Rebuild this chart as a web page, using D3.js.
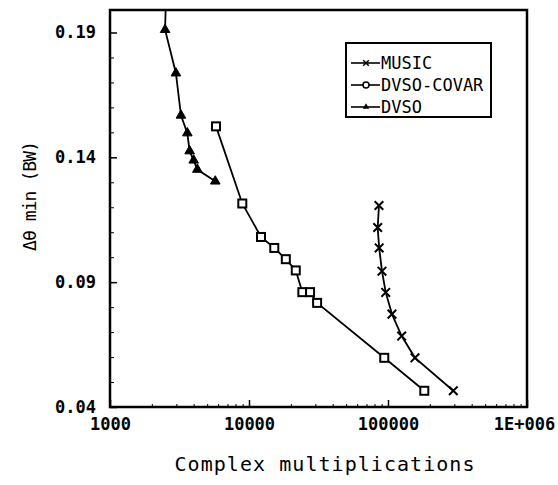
<!DOCTYPE html>
<html>
<head>
<meta charset="utf-8">
<script src="https://cdn.jsdelivr.net/npm/d3@7"></script>
<style>
  body { margin: 0; background: #fff; }
  text { font-family: "DejaVu Sans Mono", monospace; fill: #000; }
</style>
</head>
<body>
<div id="chart"></div>
<script>
// values
const musicX = [86100, 84300, 86400, 90500, 96300, 106800, 125400, 156400, 295000];
const musicY = [0.1207, 0.1119, 0.1037, 0.0944, 0.0859, 0.0772, 0.0684, 0.0597, 0.0465];

const covarX = [5790, 8950, 12200, 15200, 18400, 21700, 24200, 27500, 30900, 94000, 182500];
const covarY = [0.1524, 0.1215, 0.1081, 0.1037, 0.0992, 0.0947, 0.0860, 0.0860, 0.0817, 0.0597, 0.0465];

// first value lies above the plotted range (line runs off the top)
const dvsoX = [2560, 2490, 2980, 3240, 3600, 3740, 4000, 4250, 5720];
const dvsoY = [0.215, 0.1911, 0.1737, 0.1568, 0.1497, 0.1425, 0.1388, 0.1351, 0.1304];

const xTicks = [1000, 10000, 100000, 1000000];
const xTickLabels = ["1000", "10000", "100000", "1E+006"];
const yTicks = [0.04, 0.09, 0.14, 0.19];
const yTickLabels = ["0.04", "0.09", "0.14", "0.19"];

const legendNames = ["MUSIC", "DVSO-COVAR", "DVSO"];

const width = 558, height = 485;
const margin = {top: 10, right: 31, bottom: 78, left: 110};

const svg = d3.select("#chart").append("svg")
    .attr("width", width)
    .attr("height", height);

const x = d3.scaleLog()
    .domain([1000, 1000000])
    .range([margin.left, width - margin.right]);

const y = d3.scaleLinear()
    .domain([0.04, 0.199])
    .range([height - margin.bottom, margin.top]);

// minor ticks
const xMinor = [];
[1000, 10000, 100000].forEach(d => { for (let k = 2; k < 10; k++) xMinor.push(d * k); });
const yMinor = d3.range(5, 20).map(i => i / 100).filter(v => !yTicks.some(t => Math.abs(t - v) < 1e-9));

svg.append("g")
    .attr("transform", `translate(0,${y.range()[0]})`)
    .call(d3.axisBottom(x).tickValues(xMinor).tickSizeInner(-3).tickSizeOuter(0).tickFormat(""))
    .call(g => g.select(".domain").remove());

svg.append("g")
    .attr("transform", `translate(${margin.left},0)`)
    .call(d3.axisLeft(y).tickValues(yMinor).tickSizeInner(-4).tickSizeOuter(0).tickFormat(""))
    .call(g => g.select(".domain").remove());

// major ticks
svg.append("g")
    .attr("transform", `translate(0,${y.range()[0]})`)
    .call(d3.axisBottom(x).tickValues(xTicks).tickSizeInner(-7).tickSizeOuter(0).tickPadding(11)
        .tickFormat((d, i) => xTickLabels[i]))
    .call(g => g.select(".domain").remove())
    .call(g => g.selectAll("text").style("font-size", "17px").style("font-weight", "bold").attr("font-family", null))
    .call(g => g.selectAll("text").filter(d => d === 1000000).attr("dx", -3))
    .call(g => g.selectAll("line").attr("stroke-width", 1.5));

svg.append("g")
    .attr("transform", `translate(${margin.left},0)`)
    .call(d3.axisLeft(y).tickValues(yTicks).tickSizeInner(-7).tickSizeOuter(0).tickPadding(14)
        .tickFormat((d, i) => yTickLabels[i]))
    .call(g => g.select(".domain").remove())
    .call(g => g.selectAll("text").style("font-size", "17px").style("font-weight", "bold").attr("font-family", null))
    .call(g => g.selectAll("line").attr("stroke-width", 1.5));

// frame
svg.append("rect")
    .attr("x", margin.left)
    .attr("y", margin.top)
    .attr("width", x.range()[1] - x.range()[0])
    .attr("height", y.range()[0] - y.range()[1])
    .attr("fill", "none")
    .attr("stroke", "#000")
    .attr("stroke-width", 2.5);

// axis titles
svg.append("text")
    .attr("x", (x.range()[0] + x.range()[1]) / 2 + 6)
    .attr("y", 471)
    .attr("text-anchor", "middle")
    .attr("textLength", 300)
    .style("font-size", "20px")
    .text("Complex multiplications");

svg.append("text")
    .attr("transform", "translate(36,196) rotate(-90)")
    .attr("text-anchor", "middle")
    .attr("textLength", 110)
    .style("font-size", "18px")
    .text("Δθ min (BW)");

// plot
svg.append("clipPath").attr("id", "clip")
    .append("rect")
    .attr("x", margin.left).attr("y", margin.top)
    .attr("width", x.range()[1] - x.range()[0])
    .attr("height", y.range()[0] - y.range()[1]);

const plot = svg.append("g").attr("clip-path", "url(#clip)");
const line = d3.line().x(d => x(d[0])).y(d => y(d[1]));

const music = d3.zip(musicX, musicY);
const covar = d3.zip(covarX, covarY);
const dvso = d3.zip(dvsoX, dvsoY);

[music, covar, dvso].forEach(s => {
    plot.append("path")
        .datum(s)
        .attr("d", line)
        .attr("fill", "none")
        .attr("stroke", "#000")
        .attr("stroke-width", 1.8);
});

const cross = d3.symbol().type(d3.symbolTimes).size(50);
plot.selectAll(".music").data(music).join("path")
    .attr("class", "music")
    .attr("transform", d => `translate(${x(d[0])},${y(d[1])})`)
    .attr("d", cross)
    .attr("fill", "none")
    .attr("stroke", "#000")
    .attr("stroke-width", 2);

plot.selectAll(".covar").data(covar).join("rect")
    .attr("class", "covar")
    .attr("x", d => x(d[0]) - 4)
    .attr("y", d => y(d[1]) - 4)
    .attr("width", 8)
    .attr("height", 8)
    .attr("fill", "#fff")
    .attr("stroke", "#000")
    .attr("stroke-width", 2);

const tri = d3.symbol().type(d3.symbolTriangle).size(40);
plot.selectAll(".dvso").data(dvso).join("path")
    .attr("class", "dvso")
    .attr("transform", d => `translate(${x(d[0])},${y(d[1])})`)
    .attr("d", tri)
    .attr("fill", "#000")
    .attr("stroke", "#000")
    .attr("stroke-width", 1);

// legend
const legend = svg.append("g");
legend.append("rect")
    .attr("x", 346).attr("y", 43)
    .attr("width", 145).attr("height", 74)
    .attr("fill", "#fff")
    .attr("stroke", "#000")
    .attr("stroke-width", 2);

const rows = legend.selectAll(".row").data(legendNames).join("g")
    .attr("class", "row")
    .attr("transform", (d, i) => `translate(351,${63 + i * 22})`);

rows.append("line")
    .attr("x1", 0).attr("x2", 29)
    .attr("stroke", "#000").attr("stroke-width", 1.6);

rows.append("text")
    .attr("x", 30)
    .attr("dy", "0.36em")
    .style("font-size", "17px")
    .text(d => d);

rows.filter((d, i) => i === 0).append("path")
    .attr("transform", "translate(15,0)")
    .attr("d", d3.symbol().type(d3.symbolTimes).size(22))
    .attr("stroke", "#000").attr("stroke-width", 1.5).attr("fill", "none");
rows.filter((d, i) => i === 1).append("circle")
    .attr("cx", 15).attr("r", 3)
    .attr("fill", "#fff").attr("stroke", "#000").attr("stroke-width", 1.5);
rows.filter((d, i) => i === 2).append("path")
    .attr("transform", "translate(15,0)")
    .attr("d", d3.symbol().type(d3.symbolTriangle).size(18))
    .attr("fill", "#000");
</script>
</body>
</html>
